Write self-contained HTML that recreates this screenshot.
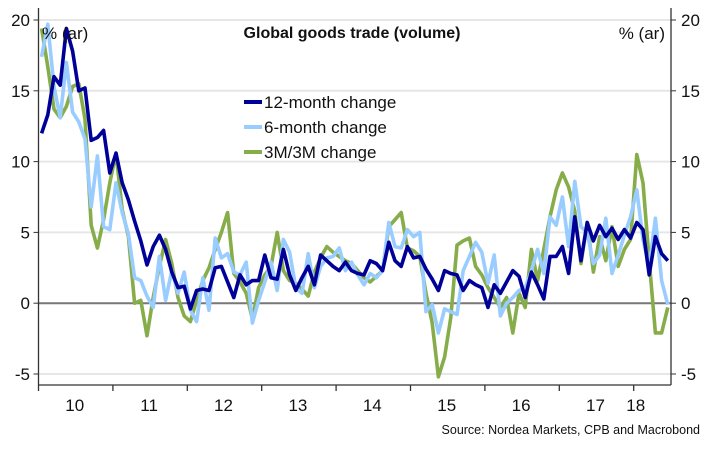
<!DOCTYPE html>
<html><head><meta charset="utf-8"><style>
body{margin:0;background:#fff}
svg text{font-family:"Liberation Sans",sans-serif;fill:#111}
</style></head><body>
<svg id="c" width="710" height="448" xmlns="http://www.w3.org/2000/svg"></svg>
<script>
const years=["10","11","12","13","14","15","16","17","18"];
const yTicks=[-5,0,5,10,15,20];
const m12=[12.0,13.3,16.0,15.4,19.4,17.8,15.0,15.2,11.5,11.7,12.2,9.2,10.6,8.5,7.3,5.8,4.4,2.7,4.0,4.8,3.8,2.2,1.1,1.2,-0.4,0.9,1.0,0.9,2.5,2.6,1.5,0.4,2.0,1.3,1.6,1.6,3.4,1.8,1.7,3.8,2.0,0.9,1.8,2.6,1.3,3.4,3.0,2.6,2.3,2.9,2.3,2.1,2.0,3.0,2.8,2.3,4.3,3.0,2.6,4.0,3.2,3.3,2.4,1.7,0.9,2.3,2.1,2.0,0.9,1.6,1.3,1.1,-0.3,1.3,0.7,1.5,2.3,1.9,0.4,2.2,1.3,0.3,3.3,3.3,4.0,2.1,6.1,3.0,5.7,4.4,5.5,4.7,5.3,4.5,5.2,4.6,5.7,5.2,2.0,4.7,3.5,3.0];
const m6=[17.4,19.7,15.3,13.1,17.0,13.5,12.8,11.6,6.8,10.4,5.4,5.2,8.5,6.4,4.9,1.8,1.6,0.5,-0.3,3.3,0.2,2.3,0.7,2.2,-0.5,-1.3,1.8,-0.5,4.6,3.2,3.5,2.2,2.0,2.9,-1.4,0.2,1.5,2.9,0.9,4.5,3.6,1.1,0.7,3.5,1.1,2.6,3.2,3.3,3.9,2.3,2.9,2.0,1.3,2.1,1.8,2.3,5.7,4.0,3.9,5.2,4.7,5.0,-0.6,-0.1,-2.1,-0.4,-0.6,-0.8,2.3,3.3,4.3,3.6,1.4,3.4,-0.9,0.0,0.4,0.9,1.1,2.3,3.8,2.1,6.1,5.5,7.5,4.0,8.6,5.4,5.0,2.8,3.4,6.0,2.1,3.4,4.8,6.1,8.0,4.5,2.6,6.0,1.6,-0.1];
const m3=[19.4,16.7,13.7,13.1,13.9,15.3,15.5,13.0,5.5,3.9,5.9,8.5,10.6,6.6,4.7,0.0,0.2,-2.3,0.4,2.6,4.5,2.8,0.4,-0.9,-1.3,0.2,1.6,2.5,3.8,5.0,6.4,2.1,1.5,0.7,-1.1,1.1,2.0,2.6,5.0,2.3,1.6,1.4,1.0,0.5,2.2,3.2,4.0,3.6,3.3,3.0,2.8,2.3,1.8,1.5,1.9,2.3,5.4,5.9,6.4,3.9,3.7,3.3,0.7,-1.4,-5.2,-3.8,-1.0,4.1,4.4,4.6,2.6,2.0,1.1,0.4,-0.3,0.4,-2.1,0.7,-0.3,3.8,1.6,3.8,6.1,8.0,9.2,8.2,6.5,2.8,5.7,2.2,4.7,3.0,5.4,2.6,3.8,4.5,10.5,8.5,3.0,-2.1,-2.1,-0.3];
const seriesNames=["12-month change","6-month change","3M/3M change"];
const NS="http://www.w3.org/2000/svg";
const svg=document.getElementById('c');
const X0=38.5,X1=671,Y0=20,Y1=374,YW=74.4;
const xs=i=>X0+(i+0.5)*YW/12;
const ys=v=>Y0+(20-v)*(Y1-Y0)/25;
function mk(t,a,p){const e=document.createElementNS(NS,t);for(const k in a)e.setAttribute(k,a[k]);(p||svg).appendChild(e);return e;}
yTicks.forEach(v=>{
 const g=mk('line',{x1:X0,x2:X1,y1:ys(v),y2:ys(v),stroke:v===0?'#777':'#e6e6e6','stroke-width':2});
 
 
 mk('line',{x1:X0-5,x2:X0,y1:ys(v),y2:ys(v),stroke:'#333'});
 mk('line',{x1:X1,x2:X1+5,y1:ys(v),y2:ys(v),stroke:'#333'});
 const l=mk('text',{x:30,y:ys(v)+6,'text-anchor':'end','font-size':17});l.textContent=v;
 
 
 const r=mk('text',{x:681,y:ys(v)+6,'font-size':17});r.textContent=v;
 
 
});
mk('line',{x1:X0,x2:X0,y1:8,y2:385,stroke:'#333','stroke-width':1.3});
mk('line',{x1:X1,x2:X1,y1:8,y2:385,stroke:'#333','stroke-width':1.3});
mk('line',{x1:X0,x2:X1,y1:385,y2:385,stroke:'#333','stroke-width':1.3});
years.forEach((y,i)=>{
 const x=X0+i*YW;
 mk('line',{x1:x,x2:x,y1:385,y2:391,stroke:'#333','stroke-width':1.3});
 const cx=i<8?x+YW/2-1:x+2;
 const t=mk('text',{x:cx,y:411,'text-anchor':'middle','font-size':17});t.textContent=y;
 
 
});
const cols=['#000099','#99ccff','#86ad4a'];
[m3,m6,m12].forEach((d,k)=>{
 const ci=2-k;
 const p=mk('polyline',{points:d.map((v,i)=>xs(i)+','+ys(v)).join(' '),fill:'none',stroke:cols[ci],'stroke-width':3.6,'stroke-linejoin':'round'});
 
 
});
seriesNames.forEach((n,i)=>{
 const y=102+i*25;
 mk('line',{x1:244,x2:262,y1:y,y2:y,stroke:cols[i],'stroke-width':4});
 const t=mk('text',{x:264,y:y+6,'font-size':17});t.textContent=n;
 
 
});
function txt(s,a,name){const t=mk('text',a);t.textContent=s;}
txt('Global goods trade (volume)',{x:352,y:38,'text-anchor':'middle','font-size':16,'font-weight':'bold'},'chart-title');
txt('% (ar)',{x:42,y:39,'font-size':17},'y-left-unit');
txt('% (ar)',{x:665,y:39,'font-size':17,'text-anchor':'end'},'y-right-unit');
txt('Source: Nordea Markets, CPB and Macrobond',{x:700,y:434,'font-size':12.5,'text-anchor':'end'},'source-note');
</script>
</body></html>
